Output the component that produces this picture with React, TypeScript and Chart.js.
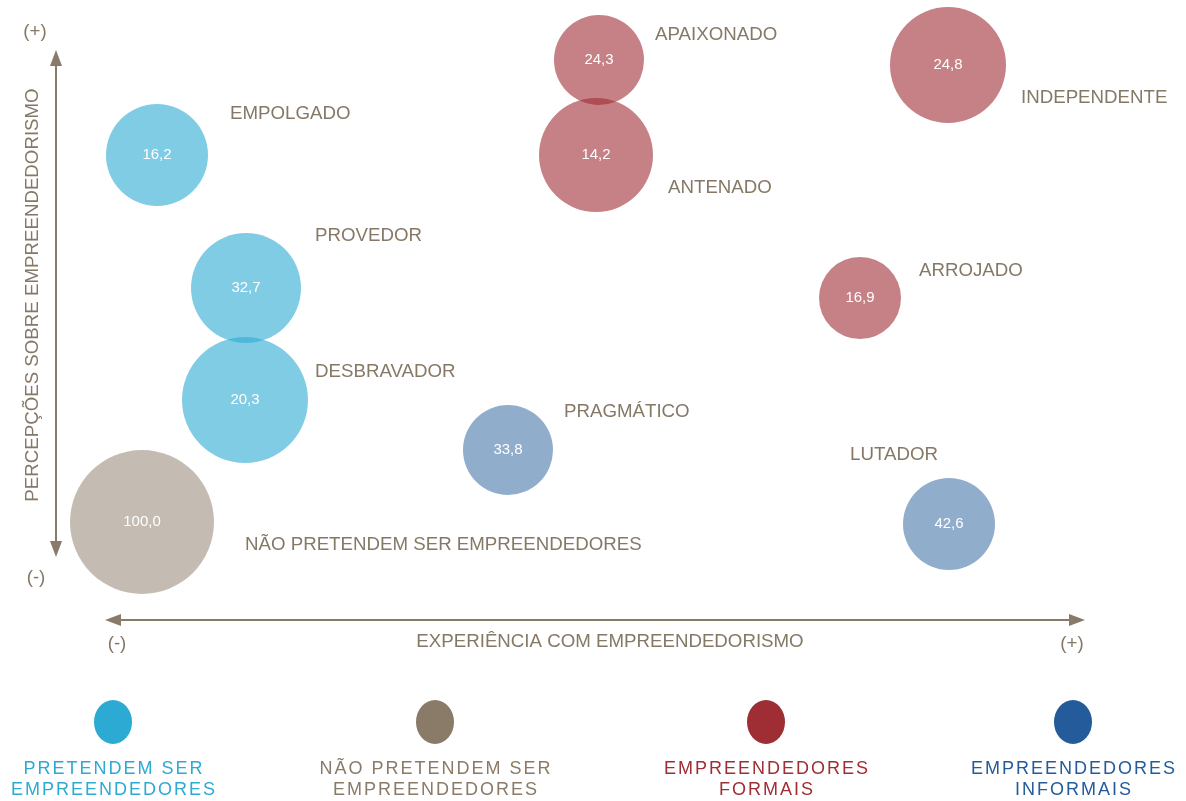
import React, { useEffect, useRef } from 'react';
import { Chart, registerables } from 'chart.js';

Chart.register(...registerables);

// ---- data ----
const groupNames = [
  'PRETENDEM SER EMPREENDEDORES',
  'NÃO PRETENDEM SER EMPREENDEDORES',
  'EMPREENDEDORES FORMAIS',
  'EMPREENDEDORES INFORMAIS',
];
const groupLegendLines = [
  ['PRETENDEM SER', 'EMPREENDEDORES'],
  ['NÃO PRETENDEM SER', 'EMPREENDEDORES'],
  ['EMPREENDEDORES', 'FORMAIS'],
  ['EMPREENDEDORES', 'INFORMAIS'],
];
const profiles = [
  'EMPOLGADO',
  'PROVEDOR',
  'DESBRAVADOR',
  'NÃO PRETENDEM SER EMPREENDEDORES',
  'PRAGMÁTICO',
  'APAIXONADO',
  'ANTENADO',
  'INDEPENDENTE',
  'ARROJADO',
  'LUTADOR',
];
const profileGroup = [0, 0, 0, 1, 3, 2, 2, 2, 2, 3];
const indexValues = [16.2, 32.7, 20.3, 100.0, 33.8, 24.3, 14.2, 24.8, 16.9, 42.6];
// experience (x) and perception (y) positions on abstract 0-10 / 0-6 scales
const experience = [0.57, 1.46, 1.45, 0.42, 4.08, 4.99, 4.96, 8.48, 7.6, 8.49];
const perception = [4.45, 3.12, 2.0, 0.78, 1.5, 5.4, 4.45, 5.35, 3.02, 0.76];
const bubbleRadius = [51, 55, 63, 72, 45, 45, 57, 58, 41, 46];

// ---- styles ----
const groupColors = ['#2DAAD4', '#8A7A68', '#9E2D34', '#245B9A'];
const groupFill = [
  'rgba(45,170,212,0.6)',
  'rgba(138,122,104,0.5)',
  'rgba(158,45,52,0.6)',
  'rgba(36,91,154,0.5)',
];
// label offsets from bubble centre (px): [dx to text left, dy to text middle]
const labelOffsets: [number, number][] = [
  [73, -41],
  [69, -52],
  [70, -28],
  [103, 23],
  [56, -38],
  [56, -25],
  [72, 33],
  [73, 33],
  [59, -27],
  [-99, -69],
];
const FONT = '"Liberation Sans", Arial, sans-serif';
const LABEL_SIZE = 18.7;
const TEXT = '#857866';
const AXIS = '#8A7A68';

const overlay = {
  id: 'overlay',
  afterDatasetsDraw(chart: any) {
    const ctx: CanvasRenderingContext2D = chart.ctx;
    ctx.save();
    // value labels + names
    chart.data.datasets.forEach((ds: any, di: number) => {
      const meta = chart.getDatasetMeta(di);
      meta.data.forEach((el: any, i: number) => {
        const idx = ds.idx[i];
        ctx.fillStyle = '#ffffff';
        ctx.font = `15px ${FONT}`;
        ctx.textAlign = 'center';
        ctx.textBaseline = 'middle';
        ctx.fillText(indexValues[idx].toFixed(1).replace('.', ','), el.x, el.y);
        ctx.fillStyle = TEXT;
        ctx.font = `${LABEL_SIZE}px ${FONT}`;
        ctx.textAlign = 'left';
        const [dx, dy] = labelOffsets[idx];
        ctx.fillText(profiles[idx], el.x + dx, el.y + dy);
      });
    });

    // axes arrows
    ctx.strokeStyle = AXIS;
    ctx.fillStyle = AXIS;
    ctx.lineWidth = 2;
    // vertical
    const vx = 56;
    ctx.beginPath();
    ctx.moveTo(vx, 64);
    ctx.lineTo(vx, 545);
    ctx.stroke();
    ctx.beginPath();
    ctx.moveTo(vx, 50);
    ctx.lineTo(vx - 6, 66);
    ctx.lineTo(vx + 6, 66);
    ctx.closePath();
    ctx.fill();
    ctx.beginPath();
    ctx.moveTo(vx, 557);
    ctx.lineTo(vx - 6, 541);
    ctx.lineTo(vx + 6, 541);
    ctx.closePath();
    ctx.fill();
    // horizontal
    const hy = 620;
    ctx.beginPath();
    ctx.moveTo(118, hy);
    ctx.lineTo(1072, hy);
    ctx.stroke();
    ctx.beginPath();
    ctx.moveTo(105, hy);
    ctx.lineTo(121, hy - 6);
    ctx.lineTo(121, hy + 6);
    ctx.closePath();
    ctx.fill();
    ctx.beginPath();
    ctx.moveTo(1085, hy);
    ctx.lineTo(1069, hy - 6);
    ctx.lineTo(1069, hy + 6);
    ctx.closePath();
    ctx.fill();

    // axis texts
    ctx.fillStyle = TEXT;
    ctx.font = `${LABEL_SIZE}px ${FONT}`;
    ctx.textAlign = 'center';
    ctx.textBaseline = 'middle';
    ctx.fillText('(+)', 35, 32);
    ctx.fillText('(-)', 36, 578);
    ctx.fillText('(-)', 117, 644);
    ctx.fillText('(+)', 1072, 644);
    ctx.fillText('EXPERIÊNCIA COM EMPREENDEDORISMO', 610, 642);
    ctx.save();
    ctx.translate(33, 295);
    ctx.rotate(-Math.PI / 2);
    ctx.fillText('PERCEPÇÕES SOBRE EMPREENDEDORISMO', 0, 0);
    ctx.restore();

    // legend
    const legendX = [113, 435, 766, 1073];
    groupNames.forEach((_, g) => {
      const cx = legendX[g];
      ctx.fillStyle = groupColors[g];
      ctx.beginPath();
      ctx.ellipse(cx, 722, 19, 22, 0, 0, Math.PI * 2);
      ctx.fill();
      ctx.font = `18px ${FONT}`;
      (ctx as any).letterSpacing = '2px';
      ctx.textAlign = 'center';
      groupLegendLines[g].forEach((line, li) => {
        ctx.fillText(line, cx + 1, 769 + li * 21);
      });
      (ctx as any).letterSpacing = '0px';
    });
    ctx.restore();
  },
};

export default function App() {
  const ref = useRef<HTMLCanvasElement>(null);
  useEffect(() => {
    document.body.style.margin = '0';
    const datasets = groupNames.map((name, g) => {
      const idx = profiles.map((_, i) => i).filter((i) => profileGroup[i] === g);
      return {
        label: name,
        idx,
        data: idx.map((i) => ({ x: experience[i], y: perception[i], r: bubbleRadius[i] })),
        backgroundColor: groupFill[g],
        borderWidth: 0,
        clip: false as any,
      };
    });
    const chart = new Chart(ref.current!, {
      type: 'bubble',
      data: { datasets: datasets as any },
      options: {
        animation: false,
        responsive: false,
        events: [],
        layout: { autoPadding: false, padding: { left: 100, right: 86, top: 0, bottom: 201 } },
        scales: {
          x: { type: 'linear', min: 0, max: 10, display: false },
          y: { type: 'linear', min: 0, max: 6, display: false },
        },
        plugins: { legend: { display: false }, tooltip: { enabled: false } },
      },
      plugins: [overlay],
    });
    return () => chart.destroy();
  }, []);
  return (
    <div style={{ width: 1186, height: 801, background: '#fff' }}>
      <canvas ref={ref} width={1186} height={801} style={{ display: 'block' }} />
    </div>
  );
}
